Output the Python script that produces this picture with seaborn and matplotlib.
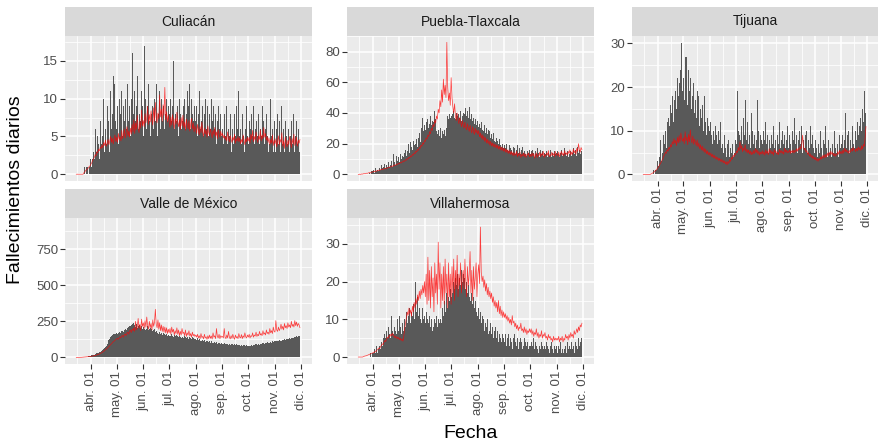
import numpy as np
import pandas as pd
import matplotlib
matplotlib.use("Agg")
import matplotlib.pyplot as plt
import matplotlib.dates as mdates
import matplotlib.ticker as mticker
import seaborn as sns

sns.set_theme(style="darkgrid")
plt.rcParams['font.family'] = ['Liberation Sans', 'DejaVu Sans']

# ---------------- data (daily, 2020-03-15 .. 2020-11-30) ----------------
start_date = "2020-03-15"

cul_bars = [0,0,0,0,0,0,0,0,0,1,1,0,1,1,0,1,1,
    2,1,2,3,2,6,8,3,5,4, 2,7,4,3,5,10,3,6,4,9, 5,7,3,11,6,8,13,5,12,7,
    6,9,4,10,8,6,11,5,9,7, 10,6,8,12,7,9,5,10,16,6, 8,11,7,9,13,6,10,8,7,11, 9,
    5,17,8,10,6,9,12,7,5,11, 8,9,6,10,7,12,5,9,8,11, 6,10,7,9,13,6,8,10,7,9,
    8,6,10,7,9,15,6,8,11,7, 9,5,10,8,6,13,7,9,10,6, 8,11,7,9,12,6,10,8,7,9, 6,
    7,9,5,8,11,6,12,7,9,5, 8,10,6,7,9,5,8,6,10,7, 5,9,6,8,4,7,9,5,6,8, 5,
    6,4,8,5,7,9,4,6,5,8, 3,7,6,4,8,5,9,6,7,11, 5,6,4,8,5,7,3,6,9,5,
    4,7,3,6,8,5,9,4,6,3, 7,5,8,4,6,5,9,3,7,4, 6,8,5,3,7,4,10,5,6,3, 7,
    5,3,6,8,4,7,3,5,9,4, 6,3,7,5,8,4,6,3,5,7, 4,6,8,3,5,7,4,6,3,5]
cul_red = [0,0,0,0,0,0,0,0,0, 0.2,0.3,0.5,0.6,0.7,0.8,1.0,1.1,
    1.3,1.5,1.8,2.0,2.2,2.6,2.4,3.0,2.8,3.3, 3.1,3.6,3.4,3.9,3.5,4.2,3.8,4.5,3.7,4.1, 4.6,3.9,4.4,5.0,4.2,4.8,4.0,4.6,5.2,4.3,
    4.9,4.2,5.4,4.6,5.0,4.4,5.8,4.7,5.2,6.0, 4.8,5.5,6.3,5.0,5.7,4.9,6.1,5.3,6.6,5.6, 7.2,5.4,6.8,5.9,7.8,6.2,5.5,7.0,6.1,8.5, 6.4,
    7.1,6.3,8.0,6.8,7.5,9.0,6.6,7.9,6.9,8.4, 7.2,6.5,8.8,7.0,9.5,7.4,6.8,8.1,7.3,10.5, 7.6,8.6,7.0,9.2,7.8,11.5,7.2,8.3,6.9,7.8,
    7.0,6.2,7.6,6.5,7.9,6.8,6.0,7.4,6.6,8.2, 6.9,6.3,7.2,5.9,7.5,6.4,7.8,6.1,6.9,5.8, 7.3,6.5,6.0,7.1,5.7,6.6,7.4,6.0,6.8,5.6, 6.4,
    6.0,5.4,6.6,5.8,5.2,6.3,5.5,6.9,5.6,5.0, 6.1,5.3,5.9,4.9,6.4,5.5,5.1,6.0,5.4,4.8, 5.8,5.2,6.2,5.0,5.6,4.7,5.9,5.3,4.9,5.7, 5.1,
    5.4,4.8,5.2,4.6,5.0,4.4,5.6,4.7,4.3,5.1, 4.6,4.2,4.9,4.5,5.3,4.1,4.7,4.4,5.0,4.3, 4.8,4.0,4.6,4.2,5.2,4.5,3.9,4.7,4.3,4.9,
    4.4,4.9,4.1,5.3,4.6,5.8,4.3,5.0,4.5,5.6, 4.8,4.2,5.1,4.6,5.9,4.4,5.2,4.7,6.2,4.9, 5.4,4.5,5.0,4.2,4.8,3.9,4.6,4.1,5.2,3.8, 4.5,
    4.0,4.7,3.6,4.3,5.1,3.9,4.6,4.2,5.5,3.7, 4.4,3.4,4.9,4.1,3.6,4.5,3.9,5.0,4.2,3.5, 4.7,4.0,5.3,3.8,4.4,4.9,3.7,4.5,4.1,4.6]

pue_bars = [0,0,0,0,0,0,0,0,0,0, 0,0,0,1,0,2,1,
    2,3,1,4,2,3,5,2,4,3, 6,4,5,3,7,4,6,5,8,5, 7,6,9,5,13,8,6,10,12,9,
    11,8,13,10,12,18,11,14,16,12, 15,20,17,14,21,18,16,22,19,25, 20,23,18,24,27,21,26,30,37,28, 32,
    29,34,31,36,30,33,38,32,35,30, 34,41,36,28,26,29,25,27,30,24, 28,26,29,25,27,30,38,36,39,37,
    38,35,39,41,37,36,40,38,42,39, 37,41,35,38,40,36,39,43,38,41, 37,44,40,36,39,35,37,33,36,32, 34,
    35,31,33,30,34,29,31,28,32,27, 30,26,29,25,28,24,26,23,27,22, 25,21,24,22,20,23,19,21,18,20, 17,
    19,17,20,16,18,15,19,17,16,14, 18,15,17,13,16,19,14,17,15,13, 16,18,14,15,13,17,12,15,14,16,
    13,15,12,16,14,11,15,13,17,12, 14,11,16,13,15,12,14,10,13,15, 11,14,12,16,13,11,14,12,15,13, 14,
    12,15,13,11,14,16,12,15,13,17, 14,12,15,11,16,13,15,12,14,17, 13,15,16,12,18,14,16,13,15,17]
pue_red = [0,0,0.2,0,0.3,0.2,0.4,0.5,0.4,0.6, 0.8,0.7,1.0,1.2,0.9,1.3,1.5,
    1.6,1.9,1.7,2.2,2.0,2.5,2.3,2.8,2.6,3.1, 3.3,3.0,3.6,3.4,3.9,3.7,4.2,4.0,4.6,4.4, 5.0,4.8,5.4,5.1,5.9,5.6,6.3,6.0,6.8,6.5,
    7.2,6.9,7.8,7.4,8.3,8.0,8.9,8.5,9.6,9.2, 10.4,10.0,11.2,10.8,12.1,11.6,13.0,12.5,14.0,13.4, 15.1,14.5,16.3,15.7,17.6,17.0,19.0,18.3,20.5,19.7, 22.0,
    21.5,23.8,22.9,25.6,24.7,27.8,26.5,30.0,28.6,32.5, 31.0,35.2,33.4,38.0,36.0,42.5,40.0,48.0,44.0,55.0, 47.0,62.0,52.0,58.0,50.0,86.0,57.0,48.0,53.0,45.0,
    63.0,50.0,44.0,40.0,46.0,38.0,35.0,40.0,36.0,33.0, 37.0,34.0,31.0,35.0,32.0,30.0,34.0,31.0,29.0,33.0, 30.0,28.0,32.0,29.0,27.0,31.0,28.0,26.0,30.0,27.0, 29.0,
    26.0,28.5,24.5,27.0,23.5,26.0,22.5,25.0,21.5,24.0, 20.5,23.0,20.0,22.0,19.0,21.5,18.5,20.5,18.0,20.0, 17.5,19.5,17.0,19.0,16.5,18.5,16.0,18.0,15.5,17.5, 15.0,
    17.0,14.5,16.5,14.0,16.0,13.5,15.5,13.0,15.0,12.5, 14.5,12.0,14.0,12.5,15.0,11.5,13.5,12.0,14.5,11.0, 13.0,12.0,14.0,11.5,13.5,11.0,13.0,12.5,14.0,11.5,
    13.0,11.5,14.0,12.0,13.5,10.5,12.5,14.0,11.0,13.0, 12.0,14.5,11.5,13.5,12.5,15.0,11.0,13.0,12.0,14.0, 12.5,15.5,11.5,13.0,12.0,14.5,12.5,13.5,11.5,15.0, 12.5,
    13.5,12.0,14.5,11.5,13.0,15.0,12.5,14.0,12.0,15.5, 13.0,14.0,12.5,15.0,13.5,16.0,12.5,14.5,13.0,16.5, 14.0,15.5,13.0,17.0,15.0,20.0,16.0,14.5,17.5,16.0]

tij_bars = [0,0,0,0,0,0,0,0,0,0, 0,0,1,0,1,2,1,
    3,2,4,8,3,6,5,9,7,10, 6,12,9,13,11,16,14,18,12,20, 17,19,15,22,18,21,17,24,30,19,
    22,17,27,20,27,16,24,19,22,15, 24,18,21,14,17,13,19,12,18,11, 15,13,16,10,14,18,12,9,13,11, 10,
    8,12,9,7,10,8,11,6,9,7, 10,8,12,6,8,7,5,9,6,4, 7,5,8,4,6,5,7,4,6,5,
    8,7,19,10,9,12,8,11,7,13, 9,17,10,8,12,7,9,6,14,8, 10,7,9,6,8,17,7,10,6,9, 8,
    7,10,6,8,12,7,9,5,8,14, 6,9,7,11,6,8,10,5,9,7, 12,6,8,5,10,7,9,6,8,11, 7,
    6,9,7,5,10,8,6,13,7,9, 5,8,10,6,7,11,5,8,6,9, 7,10,5,8,6,11,7,5,9,6,
    5,8,6,4,9,7,5,10,6,4, 8,5,7,11,6,4,8,5,9,6, 4,7,5,10,6,8,5,7,4,9, 6,
    7,5,9,6,8,14,6,9,7,10, 5,8,6,11,7,9,6,10,8,12, 9,11,8,13,10,15,12,19,14,16]
tij_red = [0,0,0,0,0,0,0,0,0,0.1, 0.2,0.3,0.5,0.6,0.8,1.0,1.2,
    1.5,1.8,2.1,2.5,2.8,3.3,3.6,4.2,4.5,5.1, 4.8,5.7,5.3,6.2,5.8,6.8,6.3,7.5,6.9,8.2, 7.1,7.8,6.6,8.5,7.2,8.9,7.4,9.5,8.1,7.6,
    8.4,7.0,9.8,7.7,8.6,6.8,9.2,7.5,10.2,8.0, 7.2,8.8,6.9,8.1,7.4,6.6,7.9,6.3,7.2,5.9, 6.8,5.6,6.5,5.3,6.1,5.0,5.8,4.7,5.4,4.5, 5.1,
    4.3,4.9,4.0,4.6,3.8,4.4,3.6,4.1,3.4,3.9, 3.2,3.7,3.0,3.5,2.8,3.3,2.6,3.1,2.4,2.9, 2.2,3.0,2.5,3.4,3.0,3.9,3.5,4.4,4.0,4.8,
    4.5,5.3,5.0,6.2,5.4,7.5,5.8,6.6,5.2,6.0, 5.5,6.8,5.1,5.8,4.9,5.6,4.7,5.4,4.5,5.2, 4.6,5.5,4.8,5.9,5.0,5.7,4.6,5.3,4.4,5.1, 4.7,
    5.4,4.6,5.2,4.4,5.6,4.8,5.3,4.5,5.9,4.9, 5.5,4.7,5.2,4.4,5.7,5.0,5.4,4.6,5.1,4.5, 5.8,5.0,5.5,4.8,5.3,4.6,6.0,5.1,5.6,4.9, 5.4,
    5.0,5.7,4.8,5.4,5.0,5.6,4.9,5.5,5.2,5.9, 5.3,6.0,5.6,6.4,5.8,6.8,9.0,6.5,5.6,6.0, 5.1,5.5,4.6,5.0,4.2,4.7,3.9,4.4,3.6,4.1,
    3.4,3.9,3.2,3.7,3.0,3.6,3.3,4.0,3.5,4.3, 3.7,4.5,3.8,4.6,4.0,4.9,4.2,5.1,4.4,5.3, 4.6,5.0,4.3,4.8,4.1,4.7,4.4,5.2,4.6,5.5, 4.8,
    5.3,4.7,5.6,4.9,6.0,5.2,5.7,5.0,5.4,4.8, 5.5,5.1,5.9,5.3,6.2,5.5,5.8,5.2,6.0,5.4, 6.3,5.6,6.1,5.5,6.6,5.8,6.9,6.4,8.5,11.0]

vdm_bars = [0,0,0,0,0,0,0,0,1,2, 2,3,4,5,6,8,9,
    11,13,15,17,19,22,25,28,30,33, 35,38,42,46,50,55,62,70,80,92, 105,118,130,140,150,156,160,158,162,165,
    168,164,170,175,168,172,180,185,178,190, 195,188,200,205,210,220,215,225,232,218, 240,226,212,228,205,215,198,222,206,218, 200,
    212,195,208,190,200,215,188,198,205,185, 195,180,190,200,175,185,170,182,165,176, 160,170,158,168,155,164,152,160,150,158,
    148,156,145,160,150,142,155,148,140,152, 146,138,150,144,136,148,142,135,145,140, 132,143,138,130,140,135,128,138,132,125, 135,
    128,122,132,118,126,115,124,112,120,110, 118,108,116,106,114,104,112,102,110,100, 108,98,106,97,104,96,102,95,100,94, 99,
    96,93,98,92,97,90,95,89,94,88, 93,87,92,86,91,85,90,84,89,83, 88,82,87,81,86,80,85,79,84,80,
    82,79,84,80,86,81,88,83,90,85, 92,87,94,89,96,91,98,93,100,95, 102,97,104,99,106,101,108,103,110,105, 112,
    108,114,110,116,112,118,114,120,116,122, 118,125,120,128,123,130,126,133,129,136, 132,140,135,143,138,146,141,150,145,155]
vdm_red = [0,0,0,0,0,0,0.5,1,1,2, 2,3,3,4,5,5,6,
    7,8,9,10,12,13,15,17,19,21, 24,27,30,34,38,42,47,52,57,63, 69,75,82,88,95,101,108,112,118,123,
    128,132,125,138,142,135,148,152,140,158, 162,150,168,175,160,182,188,172,195,185, 205,180,250,190,210,270,200,230,185,265, 215,
    240,200,255,210,280,220,195,250,205,235, 190,260,215,245,333,230,205,260,195,240, 185,225,180,215,175,210,170,205,165,195,
    170,200,160,210,175,195,155,185,165,205, 160,190,150,180,155,200,165,175,150,190, 145,170,155,185,148,165,140,175,150,160, 145,
    155,140,160,135,150,130,165,138,145,128, 160,135,142,125,150,130,155,132,148,127, 170,140,150,130,200,145,135,160,130,150, 140,
    145,135,200,140,130,155,135,180,140,128, 150,132,160,138,125,155,135,145,130,165, 140,135,158,130,150,138,170,142,135,155,
    140,160,135,150,145,170,140,155,148,175, 145,160,150,180,155,165,150,185,160,170, 155,190,165,175,160,200,170,185,165,210, 180,
    175,255,190,180,210,185,200,230,195,215, 190,235,205,220,200,240,210,225,205,250, 215,230,210,255,220,245,215,235,225,205]

vil_bars = [0,0,0,0,0,0,0,0,0,0, 0,0,0,0,1,0,1,
    1,1,2,1,3,1,2,2,3,2, 4,3,5,4,6,5,7,5,8,6, 9,5,11,7,6,8,7,9,6,10,
    7,11,8,6,9,11,7,10,8,12, 9,11,10,13,9,12,11,14,10,13, 20,12,16,11,13,10,12,9,13,10, 11,
    9,12,8,10,9,11,8,10,7,9, 8,10,9,11,8,10,9,8,10,9, 13,11,15,12,14,17,13,16,15,18,
    16,19,17,20,18,21,19,22,20,18, 21,19,23,20,22,19,21,18,20,17, 19,16,18,15,17,14,16,13,15,12, 14,
    11,13,10,12,9,11,8,10,7,9, 8,10,6,8,7,9,6,8,5,7, 6,8,5,7,4,6,5,7,4,6, 5,
    4,6,3,5,4,6,3,5,4,2, 5,3,6,4,3,5,2,4,3,5, 4,2,3,5,4,2,3,4,2,3,
    3,4,2,3,5,2,4,3,2,4, 1,3,2,4,3,2,3,1,2,4, 3,2,1,3,2,4,2,1,3,2, 3,
    2,1,3,2,4,1,2,3,1,2, 3,1,4,2,1,3,2,4,2,3, 1,2,4,3,2,5,3,4,5,4]
vil_red = [0,0,0,0,0,0,0.1,0.2,0.3,0.3, 0.4,0.5,0.6,0.7,0.8,0.9,1.0,
    1.1,1.3,1.2,1.6,1.5,1.9,2.1,2.4,2.2,2.8, 3.1,3.5,3.3,4.0,4.4,4.1,4.8,5.3,5.0,5.8, 5.5,6.1,5.6,6.3,5.8,5.2,5.6,5.0,5.4,4.8,
    5.2,4.6,5.0,4.4,4.8,4.2,5.5,7.5,9.0,10.5, 12.0,11.0,13.0,11.5,12.5,10.8,13.5,12.0,14.5,13.0, 15.5,14.0,16.5,15.0,17.5,15.5,18.0,16.5,19.0,17.0, 20.0,
    16,22,14,26.5,15,23,13,24,16,21, 12,25,17,22,14,30.5,18,25,13,22, 15,24,14,26,17,22,13,25,16,22,
    14,24,17,26,15,23,18,27,16,22, 19,25,17,21,23,18,26,20,16,24, 19,22,28,17,23,15,24,18,21,25, 16,
    22.0,24.5,19.5,34.5,22.5,20.0,21.5,18.5,20.5,17.5, 19.5,16.5,18.5,16.0,17.5,15.5,17.0,14.5,16.0,13.5, 15.0,13.0,14.5,12.0,15.0,11.5,13.5,11.0,12.5,10.5, 12.0,
    10.5,11.5,10.0,11.0,9.5,10.5,9.0,10.0,8.5,11.0, 9.0,9.5,8.0,9.0,7.5,8.5,7.0,8.0,7.5,9.0, 7.0,7.5,6.5,8.0,6.5,7.5,6.0,7.0,6.5,7.5,
    6.5,7.5,6.0,7.0,5.5,6.5,6.0,7.5,5.5,6.5, 5.0,6.0,5.5,7.0,5.0,6.0,5.5,6.5,5.0,5.5, 4.5,6.0,5.0,5.5,4.5,5.0,4.0,5.5,4.5,5.0, 4.5,
    5.0,4.5,5.5,4.0,5.0,4.5,5.5,4.0,5.0,4.5, 6.0,5.0,5.5,4.5,6.0,5.0,6.5,5.5,6.0,5.0, 7.0,6.0,6.5,7.5,6.5,8.0,7.0,8.5,8.0,9.0]

panel_titles = ["Culiacán", "Puebla-Tlaxcala", "Tijuana", "Valle de México", "Villahermosa"]
y_ticks = [[0, 5, 10, 15], [0, 20, 40, 60, 80], [0, 10, 20, 30], [0, 250, 500, 750], [0, 10, 20, 30]]
month_labels = ["abr. 01", "may. 01", "jun. 01", "jul. 01", "ago. 01",
                "sep. 01", "oct. 01", "nov. 01", "dic. 01"]
month_starts = ["2020-04-01", "2020-05-01", "2020-06-01", "2020-07-01", "2020-08-01",
                "2020-09-01", "2020-10-01", "2020-11-01", "2020-12-01"]

series = [(cul_bars, cul_red), (pue_bars, pue_red), (tij_bars, tij_red),
          (vdm_bars, vdm_red), (vil_bars, vil_red)]

# ---------------- layout ----------------
W, H = 880, 445
fig = plt.figure(figsize=(W / 100, H / 100), dpi=100)
fig.patch.set_facecolor("white")

def rect(x0, y0, x1, y1):
    return [x0 / W, 1 - y1 / H, (x1 - x0) / W, (y1 - y0) / H]

boxes = [(65, 36, 312, 181), (347, 36, 594, 181), (632, 36, 878, 181),
         (65, 218, 312, 364), (347, 218, 594, 364)]
ylims = [(-0.9, 18.3), (-4.3, 90.1), (-1.5, 31.7), (-46, 966), (-1.85, 36.9)]
show_x = [False, False, True, True, True]

xmin = mdates.date2num(pd.Timestamp("2020-03-02"))
xmax = mdates.date2num(pd.Timestamp("2020-12-14"))
major_x = [mdates.date2num(pd.Timestamp(d)) for d in month_starts]
minor_x = [mdates.date2num(pd.Timestamp("2020-03-01"))] + major_x
minor_x = [(minor_x[i] + minor_x[i + 1]) / 2 for i in range(len(minor_x) - 1)]

for k in range(5):
    bars, red = series[k]
    dates = pd.date_range(start_date, periods=len(bars), freq="D")
    rdates = pd.date_range(start_date, periods=len(red), freq="D")
    df_b = pd.DataFrame({"fecha": mdates.date2num(dates), "muertes": bars})
    df_r = pd.DataFrame({"fecha": mdates.date2num(rdates), "estimado": red})

    x0, y0, x1, y1 = boxes[k]
    ax = fig.add_axes(rect(x0, y0, x1, y1))
    ax.set_facecolor("#EBEBEB")
    ax.bar(df_b["fecha"], df_b["muertes"], width=1.0, color="#595959",
           linewidth=0, zorder=2)
    sns.lineplot(data=df_r, x="fecha", y="estimado", ax=ax, color="red",
                 linewidth=0.5, alpha=0.75, zorder=3)

    ax.set_xlim(xmin, xmax)
    ax.set_ylim(*ylims[k])
    yt = y_ticks[k]
    ax.yaxis.set_major_locator(mticker.FixedLocator(yt))
    step = yt[1] - yt[0]
    ax.yaxis.set_minor_locator(mticker.FixedLocator([v + step / 2 for v in [yt[0] - step] + yt]))
    ax.set_yticklabels([str(v) for v in yt])
    ax.xaxis.set_major_locator(mticker.FixedLocator(major_x))
    ax.xaxis.set_minor_locator(mticker.FixedLocator(minor_x))
    if show_x[k]:
        ax.set_xticklabels(month_labels, rotation=90)
    else:
        ax.set_xticklabels([])
    ax.grid(which="major", color="white", linewidth=1.1, zorder=0)
    ax.grid(which="minor", color="white", linewidth=0.55, zorder=0)
    ax.set_axisbelow(True)
    for s in ax.spines.values():
        s.set_visible(False)
    ax.tick_params(axis="y", which="major", length=3.5, width=0.8, color="#333333",
                   labelsize=9.5, labelcolor="#4D4D4D", pad=1.5, left=True)
    ax.tick_params(axis="x", which="major", length=3.5 if show_x[k] else 0, width=0.8,
                   color="#333333", labelsize=9.5, labelcolor="#4D4D4D", pad=1.5,
                   bottom=show_x[k], labelbottom=show_x[k])
    ax.tick_params(which="minor", length=0)
    ax.set_xlabel("")
    ax.set_ylabel("")

    # strip
    sax = fig.add_axes(rect(x0, y0 - 29, x1, y0))
    sax.set_facecolor("#D9D9D9")
    sax.set_xticks([])
    sax.set_yticks([])
    sax.grid(False)
    for s in sax.spines.values():
        s.set_visible(False)
    sax.text(0.5, 0.5, panel_titles[k], ha="center", va="center",
             fontsize=10, color="#1A1A1A", transform=sax.transAxes)

fig.text(16 / W, 1 - 190 / H, "Fallecimientos diarios", rotation=90,
         ha="center", va="center", fontsize=14, color="black")
fig.text(471 / W, 1 - 434 / H, "Fecha", ha="center", va="center",
         fontsize=14, color="black")

fig.savefig("out.png", dpi=100)
